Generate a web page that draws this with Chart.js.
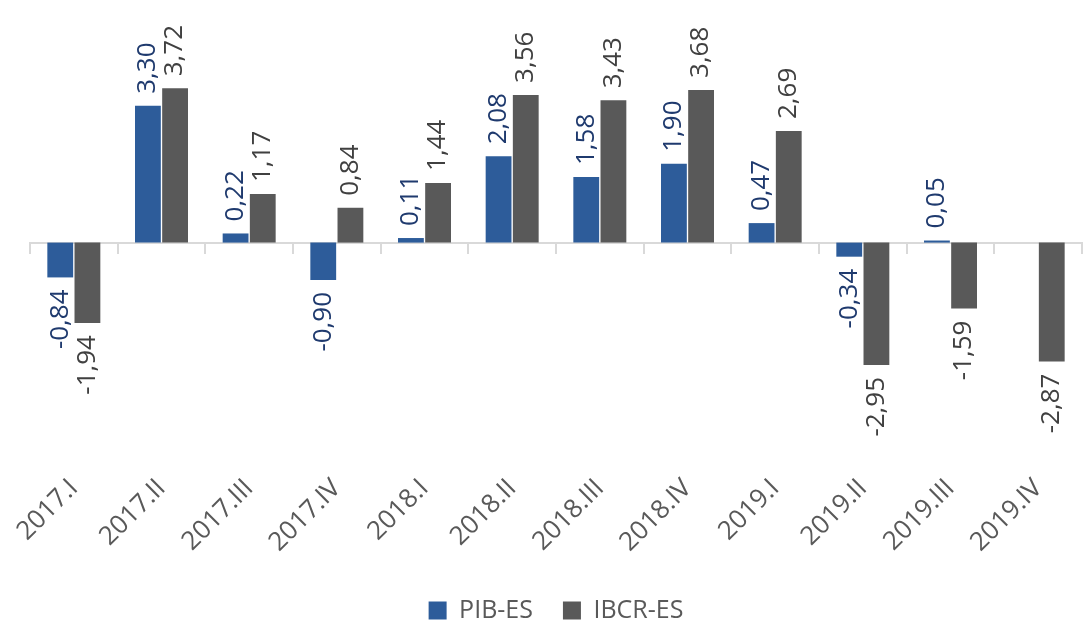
<!DOCTYPE html>
<html>
<head>
<meta charset="utf-8">
<script src="https://cdn.jsdelivr.net/npm/chart.js@4/dist/chart.umd.min.js"></script>
<style>
    body { margin: 0; background: #fff; }
    #wrap { width: 1084px; height: 622px; position: relative; }
</style>
</head>
<body>
<div id="wrap"><canvas id="chart"></canvas></div>
<script>
const quarters = ['2017.I', '2017.II', '2017.III', '2017.IV', '2018.I', '2018.II',
    '2018.III', '2018.IV', '2019.I', '2019.II', '2019.III', '2019.IV'];
const pibValues = [-0.84, 3.30, 0.22, -0.90, 0.11, 2.08, 1.58, 1.90, 0.47, -0.34, 0.05, null];
const ibcrValues = [-1.94, 3.72, 1.17, 0.84, 1.44, 3.56, 3.43, 3.68, 2.69, -2.95, -1.59, -2.87];

const FONT = "'Open Sans', 'DejaVu Sans', sans-serif";

// value labels drawn vertically at the end of each bar
const barLabels = {
    id: 'barLabels',
    afterDatasetsDraw(chart) {
        const ctx = chart.ctx;
        chart.data.datasets.forEach((ds, i) => {
            const meta = chart.getDatasetMeta(i);
            meta.data.forEach((bar, j) => {
                const v = ds.data[j];
                if (v === null || v === undefined) return;
                const txt = v.toFixed(2).replace('.', ',');
                ctx.save();
                ctx.font = '26px ' + FONT;
                ctx.fillStyle = ds.labelColor;
                ctx.textBaseline = 'middle';
                ctx.translate(bar.x, v >= 0 ? bar.y - 12 : bar.y + 12);
                ctx.rotate(-Math.PI / 2);
                ctx.textAlign = v >= 0 ? 'left' : 'right';
                ctx.fillText(txt, 0, 0);
                ctx.restore();
            });
        });
    }
};

new Chart(document.getElementById('chart'), {
    type: 'bar',
    data: {
        labels: quarters,
        datasets: [{
            label: 'PIB-ES',
            data: pibValues,
            backgroundColor: '#2D5C9A',
            labelColor: '#1F3A6E',
            categoryPercentage: 0.62,
            barPercentage: 0.95
        }, {
            label: 'IBCR-ES',
            data: ibcrValues,
            backgroundColor: '#595959',
            labelColor: '#404040',
            categoryPercentage: 0.62,
            barPercentage: 0.95
        }]
    },
    options: {
        responsive: true,
        maintainAspectRatio: false,
        animation: false,
        layout: { autoPadding: false, padding: { left: 30, right: 2, top: 0, bottom: -11 } },
        plugins: {
            legend: {
                position: 'bottom',
                labels: {
                    font: { family: FONT, size: 25 },
                    color: '#595959',
                    boxWidth: 18,
                    boxHeight: 18,
                    padding: 30
                }
            },
            tooltip: { enabled: false }
        },
        scales: {
            x: {
                offset: true,
                grid: { display: false },
                border: { display: false },
                ticks: {
                    font: { family: FONT, size: 26 },
                    color: '#595959',
                    minRotation: 45,
                    maxRotation: 45,
                    padding: 98
                },
                afterFit(scale) {
                    scale.paddingLeft = 0;
                    scale.paddingRight = 0;
                    scale.height = 201;
                }
            },
            // axis line crossing at zero with separator ticks
            x2: {
                type: 'category',
                position: { y: 0 },
                offset: true,
                grid: {
                    offset: true,
                    drawOnChartArea: false,
                    drawTicks: true,
                    tickLength: 10,
                    color: '#D9D9D9',
                    lineWidth: 2
                },
                border: { color: '#D9D9D9', width: 2 },
                ticks: { display: false }
            },
            y: {
                display: false,
                min: -3.0,
                max: 5.85
            }
        }
    },
    plugins: [barLabels]
});
</script>
</body>
</html>
